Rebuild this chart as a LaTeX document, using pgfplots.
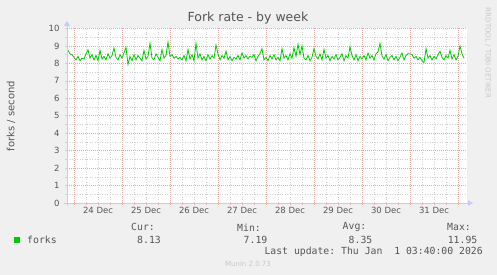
\documentclass[border=0pt]{standalone}
\usepackage{fontspec}
\setmainfont{DejaVu Sans}
\setmonofont{DejaVu Sans Mono}
\usepackage{pgfplots}
\pgfplotsset{compat=1.18}
\usepackage{pgfplotstable}
\usetikzlibrary{arrows.meta}
\definecolor{bgc}{RGB}{240,240,240}
\definecolor{txt}{RGB}{85,85,85}
\definecolor{majg}{RGB}{238,168,168}
\definecolor{ming}{RGB}{208,208,208}
\definecolor{axc}{RGB}{200,200,255}
\definecolor{forkc}{RGB}{0,204,0}
\definecolor{faint}{RGB}{200,200,200}

\pgfplotstableread{
y
8.75
8.55
8.50
8.35
8.20
8.40
8.15
8.30
8.25
8.55
8.78
8.30
8.50
8.20
8.45
8.15
8.75
8.25
8.40
8.20
8.55
8.30
8.45
8.88
8.35
8.20
8.50
8.30
8.60
8.92
7.95
8.40
8.15
8.50
8.20
8.45
8.30
8.15
8.75
8.25
8.40
9.15
8.30
8.20
8.55
8.35
8.15
8.80
8.30
8.45
9.22
8.40
8.50
8.30
8.40
8.25
8.35
8.20
8.45
8.15
8.80
8.25
8.50
8.15
9.15
8.30
8.55
8.20
8.40
8.15
8.50
8.25
8.45
8.30
9.05
8.55
8.20
8.45
8.30
8.70
8.20
8.40
8.15
8.35
8.25
8.45
8.20
8.60
8.30
8.45
8.25
8.40
8.35
8.50
8.15
8.40
8.55
8.85
8.20
8.35
8.15
8.45
8.25
8.50
8.20
8.35
8.15
8.85
8.30
8.45
8.20
8.55
8.30
8.90
8.40
9.10
8.50
9.00
8.30
8.20
8.45
8.15
8.35
8.85
8.40
8.25
8.55
8.20
8.80
8.30
8.45
8.15
8.40
8.25
8.50
8.20
8.35
8.55
8.15
8.45
8.30
8.95
8.45
8.20
8.50
8.15
8.40
8.25
8.45
8.20
8.60
8.30
8.45
8.20
8.55
8.65
9.15
8.40
8.25
8.50
8.15
8.35
8.45
8.20
8.40
8.15
8.35
8.60
8.20
8.45
8.55
8.55
8.50
8.30
8.40
8.20
8.35
8.15
8.05
8.85
8.30
8.45
8.20
8.40
8.25
8.50
8.70
8.35
8.20
8.45
8.30
8.75
8.25
8.50
8.20
8.40
9.00
8.55
8.30
}\forks

\begin{document}
\begin{tikzpicture}[x=1pt,y=1pt]
\fill[bgc] (0,0) rectangle (497,275);
\begin{axis}[
  at={(67pt,72pt)}, anchor=south west,
  width=400pt, height=174.5pt, scale only axis,
  xmin=-3.5, xmax=196.5, ymin=0, ymax=10,
  axis background/.style={fill=white},
  axis line style={draw=none},
  xtick={0,24,...,192}, xticklabels={},
  minor x tick num=3,
  ytick={0,1,...,10}, minor y tick num=1,
  extra x ticks={12,36,...,180},
  extra x tick labels={24 Dec,25 Dec,26 Dec,27 Dec,28 Dec,29 Dec,30 Dec,31 Dec},
  extra x tick style={grid=none, major tick length=0pt, tick style={draw=none}},
  grid=both,
  major grid style={majg, dash pattern=on 1pt off 1pt, line width=0.6pt},
  minor grid style={ming, dash pattern=on 1pt off 1.5pt, line width=0.6pt},
  tick pos=left, tick align=outside,
  major tick length=2pt, minor tick length=2pt,
  x tick style={majg, line width=0.6pt},
  y tick style={ming, line width=0.6pt},
  /pgf/number format/assume math mode=true,
  tick label style={font=\fontsize{8.5}{10}\selectfont, text=txt},
  yticklabel style={xshift=-2pt},
  xticklabel style={yshift=-1pt},
  clip=true,
]
\addplot[forkc, line width=0.8pt] table[x expr=\coordindex-3, y=y] {\forks};
\end{axis}
% axis lines with arrows
\draw[axc, line width=0.7pt] (67,69) -- (67,250);
\fill[axc] (64,249) -- (70,249) -- (67,254) -- cycle;
\draw[axc, line width=0.7pt] (64,72) -- (469,72);
\fill[axc] (468,69) -- (468,75) -- (473,72) -- cycle;
% title and labels
\node[text=txt, font=\fontsize{12.5}{14}\selectfont] at (248,257) {Fork rate - by week};
\node[text=txt, rotate=90, font=\fontsize{10}{12}\selectfont] at (11,159) {forks / second};
\node[text=faint, rotate=-90, font=\fontsize{7}{8}\selectfont] at (488,222) {RRDTOOL / TOBI OETIKER};
% legend
\fill[forkc] (14,32) rectangle (20,38);
\begin{scope}[every node/.style={text=txt, font=\ttfamily\fontsize{9.8}{11}\selectfont, inner sep=0pt}]
\node[anchor=west] at (27,35) {forks};
\node[anchor=east] at (155,47.7) {Cur:};
\node[anchor=east] at (161,35) {8.13};
\node[anchor=east] at (261,47.7) {Min:};
\node[anchor=east] at (267.5,35) {7.19};
\node[anchor=east] at (366.5,47.7) {Avg:};
\node[anchor=east] at (372.5,35) {8.35};
\node[anchor=east] at (471,47.7) {Max:};
\node[anchor=east] at (477.5,35) {11.95};
\node[anchor=east] at (483,23.3) {Last update: Thu Jan\ \ 1 03:40:00 2026};
\end{scope}
\node[text=faint, font=\fontsize{7}{8}\selectfont] at (248,11) {Munin 2.0.73};
\end{tikzpicture}
\end{document}
